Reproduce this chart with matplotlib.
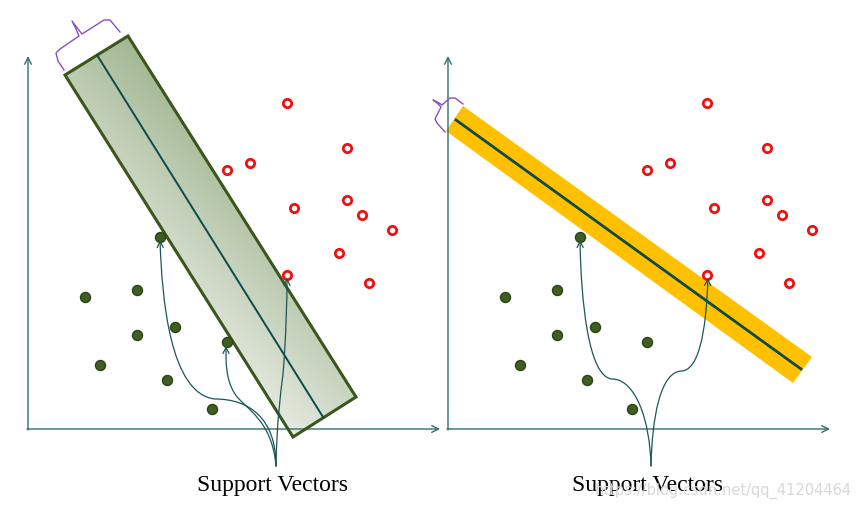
import numpy as np
import matplotlib
matplotlib.use("Agg")
import matplotlib.pyplot as plt
from matplotlib.path import Path
from matplotlib.patches import Polygon, FancyArrowPatch
from matplotlib.colors import LinearSegmentedColormap

# ---- data (pixel-like coordinate space of the illustration) ----
green_x = [85, 137, 137, 175, 100, 167, 212, 160, 227]
green_y = [298, 291, 336, 328, 366, 381, 410, 238, 343]
red_x = [287, 347, 227, 250, 294, 347, 362, 392, 339, 287, 369]
red_y = [104, 149, 171, 164, 209, 201, 216, 231, 254, 276, 284]
panel_offset = [0, 420]

left_rect_x = [65, 128, 356, 293]
left_rect_y = [76, 37, 398, 438]
left_line_x = [97, 323]
left_line_y = [56, 418]

right_band_x = [446, 463, 812, 793]
right_band_y = [132, 107, 358, 384]
right_line_x = [456, 801]
right_line_y = [121, 370]

label_text = "Support Vectors"
watermark = "https://blog.csdn.net/qq_41204464"

fig = plt.figure(figsize=(8.61, 5.10), dpi=100)
ax = fig.add_axes([0, 0, 1, 1])
ax.set_xlim(0, 861)
ax.set_ylim(510, 0)
ax.axis("off")

axis_col = "#2f6f6f"
arrow_col = "#1d5656"
green_face = "#3f5f22"
green_edge = "#2b4214"

# ---- axes of both panels ----
for ox, ytop, xend in [(28, 57, 440), (448, 57, 830)]:
    ax.annotate("", xy=(ox, ytop), xytext=(ox, 431),
                arrowprops=dict(arrowstyle="->", color=axis_col, lw=1.0,
                                mutation_scale=12, shrinkA=0, shrinkB=0))
    ax.annotate("", xy=(xend, 430), xytext=(ox - 1, 430),
                arrowprops=dict(arrowstyle="->", color=axis_col, lw=1.0,
                                mutation_scale=12, shrinkA=0, shrinkB=0))

# ---- left gradient rectangle ----
cmap = LinearSegmentedColormap.from_list("g", ["#e6ebe2", "#a2b691"])
gx, gy = np.meshgrid(np.linspace(0, 861, 400), np.linspace(0, 510, 240))
grad = (gx - gy)
im = ax.imshow(grad, extent=(0, 861, 510, 0), cmap=cmap, vmin=-150, vmax=95,
               origin="upper", zorder=2, interpolation="bilinear")
rect = Polygon(list(zip(left_rect_x, left_rect_y)), closed=True,
               facecolor="none", edgecolor="#3b561c", lw=2.2, zorder=3)
ax.add_patch(rect)
im.set_clip_path(rect)
ax.plot(left_line_x, left_line_y, color="#0c4a4d", lw=1.4, zorder=4)

# ---- right yellow band ----
ax.add_patch(Polygon(list(zip(right_band_x, right_band_y)), closed=True,
                     facecolor="#ffc000", edgecolor="none", zorder=2))
ax.plot(right_line_x, right_line_y, color="#0c4a4d", lw=2.0, zorder=4)

# ---- points ----
for off in panel_offset:
    ax.scatter(np.array(green_x) + off, green_y, s=52, c=green_face,
               edgecolors=green_edge, linewidths=1.0, zorder=6)
    ax.scatter(np.array(red_x) + off, red_y, s=36, facecolors="white",
               edgecolors="#ee1111", linewidths=2.0, zorder=6)

# ---- braces ----
brace_col = "#8a4fc0"
bl = [(64, 71), (58, 62), (56, 54), (60, 50), (79, 37), (76, 30), (72, 22),
      (78, 30), (82, 35), (104, 21), (110, 21), (120, 33)]
ax.plot([p[0] for p in bl], [p[1] for p in bl], color=brace_col, lw=1.0, zorder=5)
br = [(445, 133), (437, 124), (435, 120), (441, 108), (437, 104), (433, 101),
      (439, 104), (442, 106), (450, 99), (455, 99), (463, 105)]
ax.plot([p[0] for p in br], [p[1] for p in br], color=brace_col, lw=1.0, zorder=5)

# ---- curved arrows ----
def curve(pts):
    codes = [Path.MOVETO] + [Path.CURVE4] * (len(pts) - 1)
    return Path(pts, codes)

curves = [
    [(276, 467), (276, 420), (250, 400), (215, 400), (170, 395), (162, 300), (160, 241)],
    [(276, 467), (272, 420), (245, 410), (235, 395), (225, 380), (226, 360), (226, 347)],
    [(276, 467), (277, 420), (280, 400), (283, 375), (286, 340), (287, 300), (287, 279)],
    [(651, 467), (650, 420), (635, 380), (612, 380), (588, 378), (581, 300), (580, 241)],
    [(651, 467), (652, 420), (660, 372), (682, 372), (705, 370), (707, 300), (708, 279)],
]
for c in curves:
    p = FancyArrowPatch(path=curve(c), arrowstyle="->", mutation_scale=11,
                        color=arrow_col, lw=0.9, zorder=7)
    ax.add_patch(p)

# ---- labels ----
serif = ["Liberation Serif", "DejaVu Serif"]
ax.text(272, 486, label_text, ha="center", va="center", fontsize=17,
        family=serif, color="black", zorder=8)
ax.text(647, 486, label_text, ha="center", va="center", fontsize=17,
        family=serif, color="black", zorder=8)
ax.text(852, 491, watermark, ha="right", va="center", fontsize=10.5,
        family="DejaVu Sans", color="#d8d8d8", zorder=9)

fig.savefig("out.png", dpi=100)
